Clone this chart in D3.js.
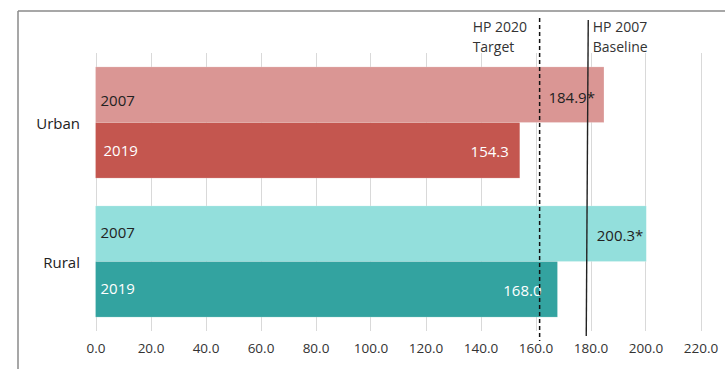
<!DOCTYPE html>
<html>
<head>
<meta charset="utf-8">
<script src="https://cdn.jsdelivr.net/npm/d3@7"></script>
<style>
  html, body { margin: 0; padding: 0; background: #fff; }
  svg { display: block; font-family: "Open Sans", "Liberation Sans", sans-serif; }
</style>
</head>
<body>
<svg id="chart" width="725" height="369"></svg>
<script>
// ---- data ----
const categories = ["Urban", "Rural"];
const years = ["2007", "2019"];
const values2007 = [184.9, 200.3];
const values2019 = [154.3, 168.0];
const valueLabels2007 = ["184.9*", "200.3*"];
const valueLabels2019 = ["154.3", "168.0"];
const tickValues = [0, 20, 40, 60, 80, 100, 120, 140, 160, 180, 200, 220];
const refValues = [161.5, 179.0];
const refLabels = [["HP 2020", "Target"], ["HP 2007", "Baseline"]];

// ---- styles / layout ----
const colors = {
  Urban: ["#DA9694", "#C4564F"],
  Rural: ["#93DFDC", "#33A3A0"]
};
const yearLabelColor = ["#222", "#fff"];
const valueLabelColor = ["#222", "#fff"];
const valueLabelInset = { Urban: [9, 11], Rural: [3, 16] };
const yearLabelDy = { Urban: [6, 0], Rural: [-1, -1] };
const valueLabelDy = { Urban: [3, 1.5], Rural: [2, 1] };

const svg = d3.select("#chart");
const W = 725, H = 369;

const x = d3.scaleLinear().domain([0, 220]).range([95.5, 700.5]);
const y = d3.scaleBand().domain(categories).range([53, 331]).paddingInner(0.2).paddingOuter(0.1);
const ySub = d3.scaleBand().domain(years).range([0, y.bandwidth()]);

// frame
svg.append("line").attr("x1", 18).attr("x2", W).attr("y1", 11).attr("y2", 11)
  .attr("stroke", "#8a8a8a").attr("stroke-width", 1.5);
svg.append("line").attr("x1", 18).attr("x2", 18).attr("y1", 11).attr("y2", H)
  .attr("stroke", "#8a8a8a").attr("stroke-width", 1.5);

// gridlines
svg.append("g").selectAll("line").data(tickValues).join("line")
  .attr("x1", d => Math.round(x(d)) + 0.5).attr("x2", d => Math.round(x(d)) + 0.5)
  .attr("y1", 53).attr("y2", 331)
  .attr("stroke", "#D9D9D9").attr("stroke-width", 1);

// x axis tick labels via d3 axis
const axis = d3.axisBottom(x).tickValues(tickValues).tickFormat(d3.format(".1f")).tickSize(0).tickPadding(0);
const gAxis = svg.append("g").attr("transform", "translate(0,343)").call(axis);
gAxis.select(".domain").remove();
gAxis.selectAll("text").attr("font-size", 13.5).attr("fill", "#333")
  .attr("font-family", "'Open Sans', sans-serif");

// bars
const rows = [];
categories.forEach((c, i) => {
  rows.push({ cat: c, year: "2007", yi: 0, v: values2007[i], label: valueLabels2007[i] });
  rows.push({ cat: c, year: "2019", yi: 1, v: values2019[i], label: valueLabels2019[i] });
});

const gBars = svg.append("g");
gBars.selectAll("rect").data(rows).join("rect")
  .attr("x", x(0))
  .attr("y", d => y(d.cat) + ySub(d.year))
  .attr("width", d => x(d.v) - x(0))
  .attr("height", ySub.bandwidth())
  .attr("fill", d => colors[d.cat][d.yi])
  .attr("stroke", "rgba(255,255,255,0.35)").attr("stroke-width", 0.6);

// year labels inside bars
gBars.selectAll("text.yr").data(rows).join("text").attr("class", "yr")
  .attr("x", d => x(0) + (d.cat === "Urban" && d.yi === 1 ? 8 : 5))
  .attr("y", d => y(d.cat) + ySub(d.year) + ySub.bandwidth() / 2 + yearLabelDy[d.cat][d.yi])
  .attr("dy", "0.35em")
  .attr("font-size", 15)
  .attr("fill", d => yearLabelColor[d.yi])
  .text(d => d.year);

// value labels
gBars.selectAll("text.val").data(rows).join("text").attr("class", "val")
  .attr("x", d => x(d.v) - valueLabelInset[d.cat][d.yi])
  .attr("y", d => y(d.cat) + ySub(d.year) + ySub.bandwidth() / 2 + valueLabelDy[d.cat][d.yi])
  .attr("dy", "0.35em")
  .attr("text-anchor", "end")
  .attr("font-size", 15)
  .attr("fill", d => valueLabelColor[d.yi])
  .text(d => d.label);

// category labels
svg.append("g").selectAll("text").data(categories).join("text")
  .attr("x", 80)
  .attr("y", d => y(d) + y.bandwidth() / 2 + 1)
  .attr("dy", "0.35em")
  .attr("text-anchor", "end")
  .attr("font-size", 15)
  .attr("fill", "#222")
  .text(d => d);

// reference lines
svg.append("line")
  .attr("x1", x(refValues[0])).attr("x2", x(refValues[0]))
  .attr("y1", 18).attr("y2", 341)
  .attr("stroke", "#111").attr("stroke-width", 1.5).attr("stroke-dasharray", "4,3");
svg.append("line")
  .attr("x1", x(refValues[1]) + 0.5).attr("x2", x(refValues[1]) - 1.5)
  .attr("y1", 20).attr("y2", 336)
  .attr("stroke", "#222").attr("stroke-width", 1.4);

// reference annotations
const ann = svg.append("g").attr("font-size", 14).attr("fill", "#333");
const t1 = ann.append("text").attr("x", x(refValues[0]) - 67).attr("y", 32);
t1.append("tspan").attr("x", x(refValues[0]) - 67).text(refLabels[0][0]);
t1.append("tspan").attr("x", x(refValues[0]) - 67).attr("dy", 20).text(refLabels[0][1]);
const t2 = ann.append("text").attr("x", x(refValues[1]) + 5).attr("y", 32);
t2.append("tspan").attr("x", x(refValues[1]) + 5).text(refLabels[1][0]);
t2.append("tspan").attr("x", x(refValues[1]) + 5).attr("dy", 20).text(refLabels[1][1]);
</script>
</body>
</html>
